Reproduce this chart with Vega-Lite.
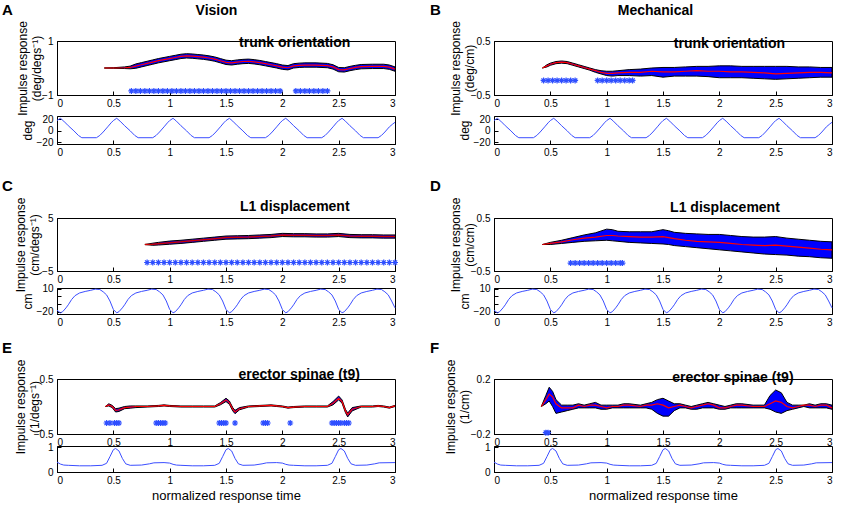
{
"$schema": "https://vega.github.io/schema/vega-lite/v6.json",
"background": "white",
"padding": {"left": 2, "top": 3, "right": 0, "bottom": 0},
"config": {
 "font": "Liberation Sans",
 "view": {"stroke": "black", "strokeWidth": 1},
 "axis": {"grid": false, "domainColor": "black", "tickColor": "black", "tickSize": -4, "labelFontSize": 10, "labelColor": "black", "titleFontSize": 12, "titleFontWeight": "normal", "titleColor": "black", "labelFont": "Liberation Sans", "titleFont": "Liberation Sans"},
 "axisX": {"labelPadding": 7},
 "axisY": {"labelPadding": 8},
 "title": {"font": "Liberation Sans", "fontWeight": "bold", "color": "black", "fontSize": 14}
},
"datasets": {
"labels": [
{"p":"A","t":2.11,"y":0.93,"lbl":"trunk orientation"},
{"p":"B","t":2.09,"y":0.44,"lbl":"trunk orientation"},
{"p":"C","t":2.11,"y":7.1,"lbl":"L1 displacement"},
{"p":"D","t":2.05,"y":0.68,"lbl":"L1 displacement"},
{"p":"E","t":2.15,"y":0.57,"lbl":"erector spinae (t9)"},
{"p":"F","t":2.12,"y":0.21,"lbl":"erector spinae (t9)"}
],
"resp": [
{"p":"A","t":0.42,"m":0,"lo":0,"hi":0},{"p":"A","t":0.5,"m":0,"lo":-0.01,"hi":0.01},{"p":"A","t":0.6,"m":0.01,"lo":-0.02,"hi":0.04},{"p":"A","t":0.65,"m":0.02,"lo":-0.03,"hi":0.07},{"p":"A","t":0.7,"m":0.07,"lo":-0.01,"hi":0.15},{"p":"A","t":0.75,"m":0.12,"lo":0.04,"hi":0.2},{"p":"A","t":0.8,"m":0.17,"lo":0.09,"hi":0.25},{"p":"A","t":0.85,"m":0.22,"lo":0.14,"hi":0.3},{"p":"A","t":0.9,"m":0.27,"lo":0.19,"hi":0.35},{"p":"A","t":0.95,"m":0.31,"lo":0.23,"hi":0.39},{"p":"A","t":1.0,"m":0.35,"lo":0.27,"hi":0.43},{"p":"A","t":1.05,"m":0.39,"lo":0.31,"hi":0.47},{"p":"A","t":1.1,"m":0.43,"lo":0.35,"hi":0.51},{"p":"A","t":1.15,"m":0.45,"lo":0.37,"hi":0.53},{"p":"A","t":1.2,"m":0.44,"lo":0.36,"hi":0.52},{"p":"A","t":1.25,"m":0.42,"lo":0.34,"hi":0.5},{"p":"A","t":1.3,"m":0.4,"lo":0.32,"hi":0.48},{"p":"A","t":1.35,"m":0.37,"lo":0.29,"hi":0.45},{"p":"A","t":1.4,"m":0.33,"lo":0.25,"hi":0.41},{"p":"A","t":1.45,"m":0.27,"lo":0.19,"hi":0.35},{"p":"A","t":1.5,"m":0.21,"lo":0.13,"hi":0.29},{"p":"A","t":1.55,"m":0.19,"lo":0.11,"hi":0.27},{"p":"A","t":1.6,"m":0.22,"lo":0.14,"hi":0.3},{"p":"A","t":1.65,"m":0.24,"lo":0.16,"hi":0.32},{"p":"A","t":1.7,"m":0.25,"lo":0.17,"hi":0.33},{"p":"A","t":1.75,"m":0.23,"lo":0.15,"hi":0.31},{"p":"A","t":1.8,"m":0.2,"lo":0.12,"hi":0.28},{"p":"A","t":1.85,"m":0.16,"lo":0.08,"hi":0.24},{"p":"A","t":1.9,"m":0.12,"lo":0.04,"hi":0.2},{"p":"A","t":1.95,"m":0.08,"lo":0,"hi":0.16},{"p":"A","t":2.0,"m":0.03,"lo":-0.05,"hi":0.11},{"p":"A","t":2.05,"m":0.01,"lo":-0.07,"hi":0.09},{"p":"A","t":2.1,"m":0.08,"lo":0,"hi":0.16},{"p":"A","t":2.15,"m":0.1,"lo":0.02,"hi":0.18},{"p":"A","t":2.2,"m":0.11,"lo":0.03,"hi":0.19},{"p":"A","t":2.3,"m":0.11,"lo":0.03,"hi":0.19},{"p":"A","t":2.4,"m":0.09,"lo":0.01,"hi":0.17},{"p":"A","t":2.45,"m":0.04,"lo":-0.04,"hi":0.12},{"p":"A","t":2.5,"m":-0.06,"lo":-0.14,"hi":0.02},{"p":"A","t":2.55,"m":-0.07,"lo":-0.15,"hi":0.01},{"p":"A","t":2.6,"m":-0.02,"lo":-0.1,"hi":0.06},{"p":"A","t":2.65,"m":0.02,"lo":-0.06,"hi":0.1},{"p":"A","t":2.7,"m":0.05,"lo":-0.03,"hi":0.13},{"p":"A","t":2.8,"m":0.06,"lo":-0.02,"hi":0.14},{"p":"A","t":2.9,"m":0.06,"lo":-0.02,"hi":0.14},{"p":"A","t":2.95,"m":0.03,"lo":-0.05,"hi":0.11},{"p":"A","t":3.0,"m":-0.04,"lo":-0.12,"hi":0.04},
{"p":"B","t":0.43,"m":0,"lo":0,"hi":0},{"p":"B","t":0.47,"m":0.04,"lo":0.02,"hi":0.06},{"p":"B","t":0.5,"m":0.07,"lo":0.05,"hi":0.09},{"p":"B","t":0.55,"m":0.1,"lo":0.08,"hi":0.12},{"p":"B","t":0.6,"m":0.11,"lo":0.09,"hi":0.13},{"p":"B","t":0.65,"m":0.1,"lo":0.08,"hi":0.12},{"p":"B","t":0.7,"m":0.07,"lo":0.05,"hi":0.09},{"p":"B","t":0.75,"m":0.04,"lo":0.02,"hi":0.06},{"p":"B","t":0.8,"m":0.01,"lo":-0.01,"hi":0.03},{"p":"B","t":0.85,"m":-0.02,"lo":-0.04,"hi":0},{"p":"B","t":0.9,"m":-0.05,"lo":-0.08,"hi":-0.03},{"p":"B","t":0.95,"m":-0.08,"lo":-0.11,"hi":-0.05},{"p":"B","t":1.0,"m":-0.1,"lo":-0.14,"hi":-0.06},{"p":"B","t":1.05,"m":-0.1,"lo":-0.15,"hi":-0.06},{"p":"B","t":1.1,"m":-0.09,"lo":-0.14,"hi":-0.05},{"p":"B","t":1.2,"m":-0.08,"lo":-0.14,"hi":-0.03},{"p":"B","t":1.3,"m":-0.08,"lo":-0.15,"hi":-0.02},{"p":"B","t":1.4,"m":-0.06,"lo":-0.14,"hi":0},{"p":"B","t":1.5,"m":-0.07,"lo":-0.17,"hi":0.01},{"p":"B","t":1.6,"m":-0.07,"lo":-0.15,"hi":0.01},{"p":"B","t":1.7,"m":-0.06,"lo":-0.15,"hi":0.02},{"p":"B","t":1.8,"m":-0.05,"lo":-0.15,"hi":0.03},{"p":"B","t":1.9,"m":-0.06,"lo":-0.16,"hi":0.03},{"p":"B","t":2.0,"m":-0.06,"lo":-0.18,"hi":0.04},{"p":"B","t":2.1,"m":-0.07,"lo":-0.18,"hi":0.04},{"p":"B","t":2.2,"m":-0.07,"lo":-0.18,"hi":0.03},{"p":"B","t":2.3,"m":-0.08,"lo":-0.19,"hi":0.03},{"p":"B","t":2.4,"m":-0.09,"lo":-0.2,"hi":0.03},{"p":"B","t":2.5,"m":-0.11,"lo":-0.21,"hi":0.03},{"p":"B","t":2.6,"m":-0.1,"lo":-0.2,"hi":0.03},{"p":"B","t":2.7,"m":-0.09,"lo":-0.19,"hi":0.02},{"p":"B","t":2.8,"m":-0.08,"lo":-0.18,"hi":0.02},{"p":"B","t":2.9,"m":-0.08,"lo":-0.17,"hi":0.01},{"p":"B","t":3.0,"m":-0.09,"lo":-0.17,"hi":0.01},
{"p":"C","t":0.78,"m":0,"lo":0,"hi":0},{"p":"C","t":0.85,"m":0.05,"lo":-0.15,"hi":0.25},{"p":"C","t":0.9,"m":0.15,"lo":-0.1,"hi":0.4},{"p":"C","t":1.0,"m":0.35,"lo":0.05,"hi":0.65},{"p":"C","t":1.1,"m":0.5,"lo":0.2,"hi":0.8},{"p":"C","t":1.2,"m":0.7,"lo":0.4,"hi":1.0},{"p":"C","t":1.3,"m":0.9,"lo":0.6,"hi":1.2},{"p":"C","t":1.4,"m":1.1,"lo":0.8,"hi":1.4},{"p":"C","t":1.5,"m":1.3,"lo":1.0,"hi":1.6},{"p":"C","t":1.6,"m":1.35,"lo":1.05,"hi":1.65},{"p":"C","t":1.7,"m":1.4,"lo":1.1,"hi":1.7},{"p":"C","t":1.8,"m":1.5,"lo":1.2,"hi":1.8},{"p":"C","t":1.9,"m":1.6,"lo":1.3,"hi":1.9},{"p":"C","t":2.0,"m":1.8,"lo":1.5,"hi":2.1},{"p":"C","t":2.1,"m":1.75,"lo":1.45,"hi":2.05},{"p":"C","t":2.2,"m":1.75,"lo":1.45,"hi":2.05},{"p":"C","t":2.3,"m":1.7,"lo":1.4,"hi":2.0},{"p":"C","t":2.4,"m":1.7,"lo":1.4,"hi":2.0},{"p":"C","t":2.5,"m":1.8,"lo":1.5,"hi":2.1},{"p":"C","t":2.6,"m":1.6,"lo":1.3,"hi":1.9},{"p":"C","t":2.7,"m":1.55,"lo":1.25,"hi":1.85},{"p":"C","t":2.8,"m":1.55,"lo":1.25,"hi":1.85},{"p":"C","t":2.9,"m":1.5,"lo":1.2,"hi":1.8},{"p":"C","t":3.0,"m":1.5,"lo":1.2,"hi":1.8},
{"p":"D","t":0.43,"m":0,"lo":0,"hi":0},{"p":"D","t":0.5,"m":0.02,"lo":0,"hi":0.04},{"p":"D","t":0.6,"m":0.05,"lo":0.02,"hi":0.08},{"p":"D","t":0.7,"m":0.09,"lo":0.04,"hi":0.13},{"p":"D","t":0.8,"m":0.12,"lo":0.06,"hi":0.18},{"p":"D","t":0.9,"m":0.14,"lo":0.07,"hi":0.22},{"p":"D","t":1.0,"m":0.17,"lo":0.08,"hi":0.29},{"p":"D","t":1.05,"m":0.17,"lo":0.07,"hi":0.28},{"p":"D","t":1.1,"m":0.16,"lo":0.06,"hi":0.25},{"p":"D","t":1.2,"m":0.15,"lo":0.04,"hi":0.24},{"p":"D","t":1.3,"m":0.14,"lo":0.03,"hi":0.24},{"p":"D","t":1.4,"m":0.14,"lo":0.02,"hi":0.24},{"p":"D","t":1.5,"m":0.15,"lo":0.01,"hi":0.28},{"p":"D","t":1.55,"m":0.13,"lo":0,"hi":0.26},{"p":"D","t":1.6,"m":0.11,"lo":-0.02,"hi":0.23},{"p":"D","t":1.7,"m":0.08,"lo":-0.04,"hi":0.21},{"p":"D","t":1.8,"m":0.06,"lo":-0.06,"hi":0.2},{"p":"D","t":1.9,"m":0.05,"lo":-0.08,"hi":0.19},{"p":"D","t":2.0,"m":0.04,"lo":-0.1,"hi":0.19},{"p":"D","t":2.1,"m":0.02,"lo":-0.12,"hi":0.17},{"p":"D","t":2.2,"m":0,"lo":-0.14,"hi":0.15},{"p":"D","t":2.3,"m":-0.01,"lo":-0.16,"hi":0.14},{"p":"D","t":2.4,"m":-0.02,"lo":-0.18,"hi":0.14},{"p":"D","t":2.5,"m":-0.01,"lo":-0.19,"hi":0.15},{"p":"D","t":2.6,"m":-0.03,"lo":-0.2,"hi":0.12},{"p":"D","t":2.7,"m":-0.05,"lo":-0.22,"hi":0.1},{"p":"D","t":2.8,"m":-0.07,"lo":-0.23,"hi":0.08},{"p":"D","t":2.9,"m":-0.09,"lo":-0.25,"hi":0.06},{"p":"D","t":3.0,"m":-0.1,"lo":-0.26,"hi":0.05},
{"p":"E","t":0.43,"m":0,"lo":0,"hi":0},{"p":"E","t":0.46,"m":0.03,"lo":0.01,"hi":0.05},{"p":"E","t":0.49,"m":0,"lo":-0.02,"hi":0.02},{"p":"E","t":0.52,"m":-0.07,"lo":-0.1,"hi":-0.04},{"p":"E","t":0.55,"m":-0.06,"lo":-0.09,"hi":-0.03},{"p":"E","t":0.6,"m":-0.02,"lo":-0.04,"hi":0},{"p":"E","t":0.65,"m":-0.01,"lo":-0.03,"hi":0.01},{"p":"E","t":0.7,"m":0,"lo":-0.02,"hi":0.01},{"p":"E","t":0.8,"m":0,"lo":-0.01,"hi":0.01},{"p":"E","t":0.9,"m":0.01,"lo":0,"hi":0.02},{"p":"E","t":0.95,"m":0.02,"lo":0.01,"hi":0.03},{"p":"E","t":1.0,"m":0.01,"lo":0,"hi":0.02},{"p":"E","t":1.1,"m":0,"lo":-0.01,"hi":0.01},{"p":"E","t":1.2,"m":0,"lo":-0.01,"hi":0.01},{"p":"E","t":1.3,"m":0,"lo":-0.01,"hi":0.01},{"p":"E","t":1.4,"m":0,"lo":-0.01,"hi":0.01},{"p":"E","t":1.45,"m":0.05,"lo":0.03,"hi":0.07},{"p":"E","t":1.5,"m":0.12,"lo":0.09,"hi":0.15},{"p":"E","t":1.53,"m":0.07,"lo":0.04,"hi":0.1},{"p":"E","t":1.56,"m":-0.05,"lo":-0.08,"hi":-0.02},{"p":"E","t":1.58,"m":-0.1,"lo":-0.13,"hi":-0.07},{"p":"E","t":1.62,"m":-0.04,"lo":-0.06,"hi":-0.02},{"p":"E","t":1.7,"m":0,"lo":-0.01,"hi":0.01},{"p":"E","t":1.8,"m":0.01,"lo":0,"hi":0.02},{"p":"E","t":1.9,"m":0.02,"lo":0.01,"hi":0.03},{"p":"E","t":1.95,"m":0.01,"lo":0,"hi":0.02},{"p":"E","t":2.0,"m":0,"lo":-0.01,"hi":0.01},{"p":"E","t":2.05,"m":-0.02,"lo":-0.03,"hi":-0.01},{"p":"E","t":2.1,"m":-0.01,"lo":-0.02,"hi":0},{"p":"E","t":2.2,"m":0,"lo":-0.01,"hi":0.01},{"p":"E","t":2.3,"m":0,"lo":-0.01,"hi":0.01},{"p":"E","t":2.4,"m":0,"lo":-0.01,"hi":0.01},{"p":"E","t":2.45,"m":0.06,"lo":0.03,"hi":0.09},{"p":"E","t":2.5,"m":0.15,"lo":0.12,"hi":0.19},{"p":"E","t":2.53,"m":0.09,"lo":0.06,"hi":0.12},{"p":"E","t":2.56,"m":-0.08,"lo":-0.11,"hi":-0.05},{"p":"E","t":2.58,"m":-0.15,"lo":-0.19,"hi":-0.12},{"p":"E","t":2.62,"m":-0.05,"lo":-0.08,"hi":-0.02},{"p":"E","t":2.7,"m":0,"lo":-0.01,"hi":0.01},{"p":"E","t":2.8,"m":0,"lo":-0.01,"hi":0.01},{"p":"E","t":2.85,"m":0.01,"lo":0,"hi":0.02},{"p":"E","t":2.9,"m":0,"lo":-0.01,"hi":0.01},{"p":"E","t":2.95,"m":-0.02,"lo":-0.03,"hi":-0.01},{"p":"E","t":3.0,"m":0.01,"lo":0,"hi":0.02},
{"p":"F","t":0.42,"m":0,"lo":0,"hi":0},{"p":"F","t":0.46,"m":0.05,"lo":0.02,"hi":0.08},{"p":"F","t":0.49,"m":0.09,"lo":0.04,"hi":0.14},{"p":"F","t":0.52,"m":0.07,"lo":0,"hi":0.11},{"p":"F","t":0.55,"m":0.02,"lo":-0.05,"hi":0.05},{"p":"F","t":0.6,"m":-0.01,"lo":-0.04,"hi":0.01},{"p":"F","t":0.65,"m":-0.01,"lo":-0.03,"hi":0.01},{"p":"F","t":0.7,"m":-0.01,"lo":-0.02,"hi":0.01},{"p":"F","t":0.75,"m":0.01,"lo":-0.01,"hi":0.02},{"p":"F","t":0.8,"m":0,"lo":-0.01,"hi":0.01},{"p":"F","t":0.85,"m":0.01,"lo":-0.01,"hi":0.02},{"p":"F","t":0.9,"m":0.01,"lo":-0.01,"hi":0.03},{"p":"F","t":0.95,"m":0,"lo":-0.02,"hi":0.01},{"p":"F","t":1.0,"m":-0.01,"lo":-0.02,"hi":0.01},{"p":"F","t":1.05,"m":0,"lo":-0.01,"hi":0.01},{"p":"F","t":1.1,"m":0,"lo":-0.01,"hi":0.01},{"p":"F","t":1.15,"m":0.01,"lo":-0.01,"hi":0.02},{"p":"F","t":1.2,"m":0.01,"lo":-0.01,"hi":0.02},{"p":"F","t":1.3,"m":0,"lo":-0.01,"hi":0.01},{"p":"F","t":1.35,"m":0.01,"lo":-0.01,"hi":0.02},{"p":"F","t":1.4,"m":0.01,"lo":-0.02,"hi":0.03},{"p":"F","t":1.45,"m":0.02,"lo":-0.05,"hi":0.05},{"p":"F","t":1.5,"m":0.01,"lo":-0.07,"hi":0.06},{"p":"F","t":1.55,"m":-0.01,"lo":-0.07,"hi":0.04},{"p":"F","t":1.6,"m":0,"lo":-0.03,"hi":0.02},{"p":"F","t":1.65,"m":0.01,"lo":-0.01,"hi":0.02},{"p":"F","t":1.7,"m":0,"lo":-0.01,"hi":0.01},{"p":"F","t":1.75,"m":-0.01,"lo":-0.02,"hi":0},{"p":"F","t":1.8,"m":0,"lo":-0.02,"hi":0.01},{"p":"F","t":1.85,"m":0.01,"lo":-0.01,"hi":0.02},{"p":"F","t":1.9,"m":0.02,"lo":-0.01,"hi":0.03},{"p":"F","t":1.95,"m":0.01,"lo":-0.01,"hi":0.02},{"p":"F","t":2.0,"m":-0.01,"lo":-0.02,"hi":0.01},{"p":"F","t":2.05,"m":-0.01,"lo":-0.02,"hi":0},{"p":"F","t":2.1,"m":0,"lo":-0.01,"hi":0.01},{"p":"F","t":2.15,"m":0.01,"lo":-0.01,"hi":0.02},{"p":"F","t":2.2,"m":0.01,"lo":-0.01,"hi":0.02},{"p":"F","t":2.3,"m":0,"lo":-0.01,"hi":0.01},{"p":"F","t":2.4,"m":0,"lo":-0.01,"hi":0.01},{"p":"F","t":2.45,"m":0.02,"lo":-0.02,"hi":0.08},{"p":"F","t":2.5,"m":0.04,"lo":-0.04,"hi":0.12},{"p":"F","t":2.55,"m":0.03,"lo":-0.05,"hi":0.1},{"p":"F","t":2.6,"m":0,"lo":-0.03,"hi":0.03},{"p":"F","t":2.65,"m":-0.01,"lo":-0.02,"hi":0.01},{"p":"F","t":2.7,"m":0,"lo":-0.01,"hi":0.01},{"p":"F","t":2.75,"m":0.01,"lo":0,"hi":0.01},{"p":"F","t":2.8,"m":0.01,"lo":-0.01,"hi":0.02},{"p":"F","t":2.85,"m":0,"lo":-0.01,"hi":0.01},{"p":"F","t":2.9,"m":0.01,"lo":-0.01,"hi":0.02},{"p":"F","t":2.95,"m":0.01,"lo":-0.01,"hi":0.02},{"p":"F","t":3.0,"m":-0.01,"lo":-0.02,"hi":0.01}
],
"sig": [
{"p":"A","t":0.66,"y":-0.85},{"p":"A","t":0.7,"y":-0.85},{"p":"A","t":0.74,"y":-0.85},{"p":"A","t":0.78,"y":-0.85},{"p":"A","t":0.82,"y":-0.85},{"p":"A","t":0.86,"y":-0.85},{"p":"A","t":0.9,"y":-0.85},{"p":"A","t":0.94,"y":-0.85},{"p":"A","t":0.98,"y":-0.85},{"p":"A","t":1.02,"y":-0.85},{"p":"A","t":1.06,"y":-0.85},{"p":"A","t":1.1,"y":-0.85},{"p":"A","t":1.14,"y":-0.85},{"p":"A","t":1.18,"y":-0.85},{"p":"A","t":1.22,"y":-0.85},{"p":"A","t":1.26,"y":-0.85},{"p":"A","t":1.3,"y":-0.85},{"p":"A","t":1.34,"y":-0.85},{"p":"A","t":1.38,"y":-0.85},{"p":"A","t":1.42,"y":-0.85},{"p":"A","t":1.46,"y":-0.85},{"p":"A","t":1.5,"y":-0.85},{"p":"A","t":1.54,"y":-0.85},{"p":"A","t":1.58,"y":-0.85},{"p":"A","t":1.62,"y":-0.85},{"p":"A","t":1.66,"y":-0.85},{"p":"A","t":1.7,"y":-0.85},{"p":"A","t":1.74,"y":-0.85},{"p":"A","t":1.78,"y":-0.85},{"p":"A","t":1.82,"y":-0.85},{"p":"A","t":1.86,"y":-0.85},{"p":"A","t":1.9,"y":-0.85},{"p":"A","t":1.94,"y":-0.85},{"p":"A","t":1.98,"y":-0.85},{"p":"A","t":2.12,"y":-0.85},{"p":"A","t":2.16,"y":-0.85},{"p":"A","t":2.2,"y":-0.85},{"p":"A","t":2.24,"y":-0.85},{"p":"A","t":2.28,"y":-0.85},{"p":"A","t":2.32,"y":-0.85},{"p":"A","t":2.36,"y":-0.85},{"p":"A","t":2.4,"y":-0.85},
{"p":"B","t":0.44,"y":-0.23},{"p":"B","t":0.48,"y":-0.23},{"p":"B","t":0.52,"y":-0.23},{"p":"B","t":0.56,"y":-0.23},{"p":"B","t":0.6,"y":-0.23},{"p":"B","t":0.64,"y":-0.23},{"p":"B","t":0.68,"y":-0.23},{"p":"B","t":0.72,"y":-0.23},{"p":"B","t":0.92,"y":-0.23},{"p":"B","t":0.96,"y":-0.23},{"p":"B","t":1.0,"y":-0.23},{"p":"B","t":1.04,"y":-0.23},{"p":"B","t":1.08,"y":-0.23},{"p":"B","t":1.12,"y":-0.23},{"p":"B","t":1.16,"y":-0.23},{"p":"B","t":1.2,"y":-0.23},{"p":"B","t":1.23,"y":-0.23},
{"p":"C","t":0.8,"y":-3.4},{"p":"C","t":0.85,"y":-3.4},{"p":"C","t":0.9,"y":-3.4},{"p":"C","t":0.95,"y":-3.4},{"p":"C","t":1.0,"y":-3.4},{"p":"C","t":1.05,"y":-3.4},{"p":"C","t":1.1,"y":-3.4},{"p":"C","t":1.15,"y":-3.4},{"p":"C","t":1.2,"y":-3.4},{"p":"C","t":1.25,"y":-3.4},{"p":"C","t":1.3,"y":-3.4},{"p":"C","t":1.35,"y":-3.4},{"p":"C","t":1.4,"y":-3.4},{"p":"C","t":1.45,"y":-3.4},{"p":"C","t":1.5,"y":-3.4},{"p":"C","t":1.55,"y":-3.4},{"p":"C","t":1.6,"y":-3.4},{"p":"C","t":1.65,"y":-3.4},{"p":"C","t":1.7,"y":-3.4},{"p":"C","t":1.75,"y":-3.4},{"p":"C","t":1.8,"y":-3.4},{"p":"C","t":1.85,"y":-3.4},{"p":"C","t":1.9,"y":-3.4},{"p":"C","t":1.95,"y":-3.4},{"p":"C","t":2.0,"y":-3.4},{"p":"C","t":2.05,"y":-3.4},{"p":"C","t":2.1,"y":-3.4},{"p":"C","t":2.15,"y":-3.4},{"p":"C","t":2.2,"y":-3.4},{"p":"C","t":2.25,"y":-3.4},{"p":"C","t":2.3,"y":-3.4},{"p":"C","t":2.35,"y":-3.4},{"p":"C","t":2.4,"y":-3.4},{"p":"C","t":2.45,"y":-3.4},{"p":"C","t":2.5,"y":-3.4},{"p":"C","t":2.55,"y":-3.4},{"p":"C","t":2.6,"y":-3.4},{"p":"C","t":2.65,"y":-3.4},{"p":"C","t":2.7,"y":-3.4},{"p":"C","t":2.75,"y":-3.4},{"p":"C","t":2.8,"y":-3.4},{"p":"C","t":2.85,"y":-3.4},{"p":"C","t":2.9,"y":-3.4},{"p":"C","t":2.95,"y":-3.4},{"p":"C","t":3.0,"y":-3.4},
{"p":"D","t":0.68,"y":-0.35},{"p":"D","t":0.72,"y":-0.35},{"p":"D","t":0.76,"y":-0.35},{"p":"D","t":0.8,"y":-0.35},{"p":"D","t":0.84,"y":-0.35},{"p":"D","t":0.88,"y":-0.35},{"p":"D","t":0.92,"y":-0.35},{"p":"D","t":0.96,"y":-0.35},{"p":"D","t":1.0,"y":-0.35},{"p":"D","t":1.04,"y":-0.35},{"p":"D","t":1.08,"y":-0.35},{"p":"D","t":1.12,"y":-0.35},{"p":"D","t":1.14,"y":-0.35},
{"p":"E","t":0.44,"y":-0.3},{"p":"E","t":0.47,"y":-0.3},{"p":"E","t":0.51,"y":-0.3},{"p":"E","t":0.53,"y":-0.3},{"p":"E","t":0.55,"y":-0.3},{"p":"E","t":0.88,"y":-0.3},{"p":"E","t":0.9,"y":-0.3},{"p":"E","t":0.92,"y":-0.3},{"p":"E","t":0.94,"y":-0.3},{"p":"E","t":0.96,"y":-0.3},{"p":"E","t":1.44,"y":-0.3},{"p":"E","t":1.46,"y":-0.3},{"p":"E","t":1.48,"y":-0.3},{"p":"E","t":1.5,"y":-0.3},{"p":"E","t":1.58,"y":-0.3},{"p":"E","t":1.83,"y":-0.3},{"p":"E","t":1.85,"y":-0.3},{"p":"E","t":1.87,"y":-0.3},{"p":"E","t":2.07,"y":-0.3},{"p":"E","t":2.44,"y":-0.3},{"p":"E","t":2.46,"y":-0.3},{"p":"E","t":2.48,"y":-0.3},{"p":"E","t":2.5,"y":-0.3},{"p":"E","t":2.52,"y":-0.3},{"p":"E","t":2.55,"y":-0.3},{"p":"E","t":2.57,"y":-0.3},{"p":"E","t":2.59,"y":-0.3},
{"p":"F","t":0.46,"y":-0.19},{"p":"F","t":0.48,"y":-0.19}
],
"stim": [
{"k":"deg","t":0,"v":18},{"k":"deg","t":0.03,"v":22},{"k":"deg","t":0.06,"v":17},{"k":"deg","t":0.1,"v":9},{"k":"deg","t":0.15,"v":0},{"k":"deg","t":0.19,"v":-8},{"k":"deg","t":0.22,"v":-12},{"k":"deg","t":0.35,"v":-12},{"k":"deg","t":0.38,"v":-8},{"k":"deg","t":0.41,"v":-2},{"k":"deg","t":0.45,"v":7},{"k":"deg","t":0.48,"v":14},
{"k":"deg","t":0.5,"v":18},{"k":"deg","t":0.53,"v":22},{"k":"deg","t":0.56,"v":17},{"k":"deg","t":0.6,"v":9},{"k":"deg","t":0.65,"v":0},{"k":"deg","t":0.69,"v":-8},{"k":"deg","t":0.72,"v":-12},{"k":"deg","t":0.85,"v":-12},{"k":"deg","t":0.88,"v":-8},{"k":"deg","t":0.91,"v":-2},{"k":"deg","t":0.95,"v":7},{"k":"deg","t":0.98,"v":14},
{"k":"deg","t":1.0,"v":18},{"k":"deg","t":1.03,"v":22},{"k":"deg","t":1.06,"v":17},{"k":"deg","t":1.1,"v":9},{"k":"deg","t":1.15,"v":0},{"k":"deg","t":1.19,"v":-8},{"k":"deg","t":1.22,"v":-12},{"k":"deg","t":1.35,"v":-12},{"k":"deg","t":1.38,"v":-8},{"k":"deg","t":1.41,"v":-2},{"k":"deg","t":1.45,"v":7},{"k":"deg","t":1.48,"v":14},
{"k":"deg","t":1.5,"v":18},{"k":"deg","t":1.53,"v":22},{"k":"deg","t":1.56,"v":17},{"k":"deg","t":1.6,"v":9},{"k":"deg","t":1.65,"v":0},{"k":"deg","t":1.69,"v":-8},{"k":"deg","t":1.72,"v":-12},{"k":"deg","t":1.85,"v":-12},{"k":"deg","t":1.88,"v":-8},{"k":"deg","t":1.91,"v":-2},{"k":"deg","t":1.95,"v":7},{"k":"deg","t":1.98,"v":14},
{"k":"deg","t":2.0,"v":18},{"k":"deg","t":2.03,"v":22},{"k":"deg","t":2.06,"v":17},{"k":"deg","t":2.1,"v":9},{"k":"deg","t":2.15,"v":0},{"k":"deg","t":2.19,"v":-8},{"k":"deg","t":2.22,"v":-12},{"k":"deg","t":2.35,"v":-12},{"k":"deg","t":2.38,"v":-8},{"k":"deg","t":2.41,"v":-2},{"k":"deg","t":2.45,"v":7},{"k":"deg","t":2.48,"v":14},
{"k":"deg","t":2.5,"v":18},{"k":"deg","t":2.53,"v":22},{"k":"deg","t":2.56,"v":17},{"k":"deg","t":2.6,"v":9},{"k":"deg","t":2.65,"v":0},{"k":"deg","t":2.69,"v":-8},{"k":"deg","t":2.72,"v":-12},{"k":"deg","t":2.85,"v":-12},{"k":"deg","t":2.88,"v":-8},{"k":"deg","t":2.91,"v":-2},{"k":"deg","t":2.95,"v":7},{"k":"deg","t":2.98,"v":12},{"k":"deg","t":3.0,"v":15},
{"k":"cm","t":0,"v":-18},{"k":"cm","t":0.03,"v":-21.5},{"k":"cm","t":0.05,"v":-20},{"k":"cm","t":0.08,"v":-15},{"k":"cm","t":0.1,"v":-11},{"k":"cm","t":0.13,"v":-4},{"k":"cm","t":0.16,"v":1},{"k":"cm","t":0.2,"v":4.5},{"k":"cm","t":0.25,"v":6.5},{"k":"cm","t":0.3,"v":8},{"k":"cm","t":0.34,"v":9.5},{"k":"cm","t":0.38,"v":9},{"k":"cm","t":0.41,"v":6},{"k":"cm","t":0.44,"v":2},{"k":"cm","t":0.47,"v":-6},
{"k":"cm","t":0.5,"v":-17},{"k":"cm","t":0.53,"v":-21.5},{"k":"cm","t":0.55,"v":-20},{"k":"cm","t":0.58,"v":-15},{"k":"cm","t":0.6,"v":-11},{"k":"cm","t":0.63,"v":-4},{"k":"cm","t":0.66,"v":1},{"k":"cm","t":0.7,"v":4.5},{"k":"cm","t":0.75,"v":6.5},{"k":"cm","t":0.8,"v":8},{"k":"cm","t":0.84,"v":9.5},{"k":"cm","t":0.88,"v":9},{"k":"cm","t":0.91,"v":6},{"k":"cm","t":0.94,"v":2},{"k":"cm","t":0.97,"v":-6},
{"k":"cm","t":1.0,"v":-17},{"k":"cm","t":1.03,"v":-21.5},{"k":"cm","t":1.05,"v":-20},{"k":"cm","t":1.08,"v":-15},{"k":"cm","t":1.1,"v":-11},{"k":"cm","t":1.13,"v":-4},{"k":"cm","t":1.16,"v":1},{"k":"cm","t":1.2,"v":4.5},{"k":"cm","t":1.25,"v":6.5},{"k":"cm","t":1.3,"v":8},{"k":"cm","t":1.34,"v":9.5},{"k":"cm","t":1.38,"v":9},{"k":"cm","t":1.41,"v":6},{"k":"cm","t":1.44,"v":2},{"k":"cm","t":1.47,"v":-6},
{"k":"cm","t":1.5,"v":-17},{"k":"cm","t":1.53,"v":-21.5},{"k":"cm","t":1.55,"v":-20},{"k":"cm","t":1.58,"v":-15},{"k":"cm","t":1.6,"v":-11},{"k":"cm","t":1.63,"v":-4},{"k":"cm","t":1.66,"v":1},{"k":"cm","t":1.7,"v":4.5},{"k":"cm","t":1.75,"v":6.5},{"k":"cm","t":1.8,"v":8},{"k":"cm","t":1.84,"v":9.5},{"k":"cm","t":1.88,"v":9},{"k":"cm","t":1.91,"v":6},{"k":"cm","t":1.94,"v":2},{"k":"cm","t":1.97,"v":-6},
{"k":"cm","t":2.0,"v":-17},{"k":"cm","t":2.03,"v":-21.5},{"k":"cm","t":2.05,"v":-20},{"k":"cm","t":2.08,"v":-15},{"k":"cm","t":2.1,"v":-11},{"k":"cm","t":2.13,"v":-4},{"k":"cm","t":2.16,"v":1},{"k":"cm","t":2.2,"v":4.5},{"k":"cm","t":2.25,"v":6.5},{"k":"cm","t":2.3,"v":8},{"k":"cm","t":2.34,"v":9.5},{"k":"cm","t":2.38,"v":9},{"k":"cm","t":2.41,"v":6},{"k":"cm","t":2.44,"v":2},{"k":"cm","t":2.47,"v":-6},
{"k":"cm","t":2.5,"v":-17},{"k":"cm","t":2.53,"v":-21.5},{"k":"cm","t":2.55,"v":-20},{"k":"cm","t":2.58,"v":-15},{"k":"cm","t":2.6,"v":-11},{"k":"cm","t":2.63,"v":-4},{"k":"cm","t":2.66,"v":1},{"k":"cm","t":2.7,"v":4.5},{"k":"cm","t":2.75,"v":6.5},{"k":"cm","t":2.8,"v":8},{"k":"cm","t":2.84,"v":9.5},{"k":"cm","t":2.88,"v":9},{"k":"cm","t":2.91,"v":6},{"k":"cm","t":2.94,"v":2},{"k":"cm","t":2.97,"v":-6},{"k":"cm","t":3.0,"v":-15},
{"k":"emg","t":0,"v":0.4},{"k":"emg","t":0.03,"v":0.32},{"k":"emg","t":0.06,"v":0.28},{"k":"emg","t":0.1,"v":0.27},{"k":"emg","t":0.2,"v":0.25},{"k":"emg","t":0.3,"v":0.25},{"k":"emg","t":0.4,"v":0.27},{"k":"emg","t":0.44,"v":0.35},{"k":"emg","t":0.47,"v":0.62},{"k":"emg","t":0.5,"v":0.9},{"k":"emg","t":0.52,"v":0.95},{"k":"emg","t":0.55,"v":0.85},{"k":"emg","t":0.58,"v":0.55},{"k":"emg","t":0.61,"v":0.33},{"k":"emg","t":0.65,"v":0.27},{"k":"emg","t":0.75,"v":0.28},{"k":"emg","t":0.82,"v":0.33},{"k":"emg","t":0.86,"v":0.37},{"k":"emg","t":0.95,"v":0.38},
{"k":"emg","t":1.0,"v":0.36},{"k":"emg","t":1.03,"v":0.31},{"k":"emg","t":1.06,"v":0.28},{"k":"emg","t":1.1,"v":0.27},{"k":"emg","t":1.2,"v":0.25},{"k":"emg","t":1.3,"v":0.25},{"k":"emg","t":1.4,"v":0.27},{"k":"emg","t":1.44,"v":0.35},{"k":"emg","t":1.47,"v":0.62},{"k":"emg","t":1.5,"v":0.9},{"k":"emg","t":1.52,"v":0.95},{"k":"emg","t":1.55,"v":0.85},{"k":"emg","t":1.58,"v":0.55},{"k":"emg","t":1.61,"v":0.33},{"k":"emg","t":1.65,"v":0.27},{"k":"emg","t":1.75,"v":0.28},{"k":"emg","t":1.82,"v":0.33},{"k":"emg","t":1.86,"v":0.37},{"k":"emg","t":1.95,"v":0.38},
{"k":"emg","t":2.0,"v":0.36},{"k":"emg","t":2.03,"v":0.31},{"k":"emg","t":2.06,"v":0.28},{"k":"emg","t":2.1,"v":0.27},{"k":"emg","t":2.2,"v":0.25},{"k":"emg","t":2.3,"v":0.25},{"k":"emg","t":2.4,"v":0.27},{"k":"emg","t":2.44,"v":0.35},{"k":"emg","t":2.47,"v":0.62},{"k":"emg","t":2.5,"v":0.9},{"k":"emg","t":2.52,"v":0.95},{"k":"emg","t":2.55,"v":0.85},{"k":"emg","t":2.58,"v":0.55},{"k":"emg","t":2.61,"v":0.33},{"k":"emg","t":2.65,"v":0.27},{"k":"emg","t":2.75,"v":0.28},{"k":"emg","t":2.82,"v":0.33},{"k":"emg","t":2.86,"v":0.37},{"k":"emg","t":3.0,"v":0.38}
]
},
"spacing": 29,
"hconcat": [
{
 "title": {"text": "Vision", "anchor": "middle", "dx": 15, "offset": -15},
 "spacing": 12,
 "vconcat": [
  {
   "title": {"text": "A", "anchor": "start", "frame": "group", "dx": -55, "offset": 0, "fontSize": 15},
   "bounds": "flush",
   "spacing": 21,
   "vconcat": [
    {
     "width": 338, "height": 54,
     "data": {"name": "resp"},
     "transform": [{"filter": "datum.p == 'A'"}],
     "encoding": {"x": {"field": "t", "type": "quantitative", "scale": {"domain": [0, 3], "nice": false, "zero": false}, "axis": {"values": [0, 0.5, 1, 1.5, 2, 2.5, 3], "format": "~g", "title": null}}},
     "layer": [
      {"mark": {"type": "area", "fill": "#0000ff", "stroke": "black", "strokeWidth": 1, "opacity": 1}, "encoding": {"y": {"field": "lo", "type": "quantitative", "scale": {"domain": [-1, 1], "nice": false, "zero": false}, "axis": {"values": [-1, 0, 1], "format": "~g", "title": ["Impulse  response", "(deg/degs⁻¹)"], "titlePadding": -2}}, "y2": {"field": "hi"}}},
      {"data": {"values": [{}]}, "mark": {"type": "rule", "color": "#333333", "strokeWidth": 1}, "encoding": {"y": {"datum": 0}, "x": {"datum": 0}, "x2": {"datum": 3}}},
      {"mark": {"type": "line", "color": "#ff0000", "strokeWidth": 1.2}, "encoding": {"y": {"field": "m", "type": "quantitative"}}},
      {"data": {"name": "sig"}, "transform": [{"filter": "datum.p == 'A'"}], "mark": {"type": "point", "shape": "M-1,0L1,0M0,-1L0,1M-0.7,-0.7L0.7,0.7M-0.7,0.7L0.7,-0.7", "filled": false, "stroke": "#2f4fff", "strokeWidth": 1.2, "size": 36, "opacity": 1}, "encoding": {"y": {"field": "y", "type": "quantitative"}}},
      {"data": {"name": "labels"}, "transform": [{"filter": "datum.p == 'A'"}], "mark": {"type": "text", "fontWeight": "bold", "fontSize": 14, "fill": "black", "align": "center", "baseline": "middle"}, "encoding": {"text": {"field": "lbl", "type": "nominal"}, "y": {"field": "y", "type": "quantitative"}}}
     ]
    },
    {
     "width": 338, "height": 28,
     "data": {"name": "stim"},
     "transform": [{"filter": "datum.k == 'deg'"}],
     "mark": {"type": "line", "color": "#3b4eff", "strokeWidth": 1},
     "encoding": {
      "x": {"field": "t", "type": "quantitative", "scale": {"domain": [0, 3], "nice": false, "zero": false}, "axis": {"values": [0, 0.5, 1, 1.5, 2, 2.5, 3], "format": "~g", "title": "x", "titleFontSize": 7, "titlePadding": 1, "titleOpacity": 0}},
      "y": {"field": "v", "type": "quantitative", "scale": {"domain": [-23, 26], "nice": false, "zero": false}, "axis": {"values": [-20, 0, 20], "format": "d", "title": "deg", "titlePadding": 2}}
     }
    }
   ]
  },
  {
   "title": {"text": "C", "anchor": "start", "frame": "group", "dx": -55, "offset": 1, "fontSize": 15},
   "bounds": "flush",
   "spacing": 17,
   "vconcat": [
    {
     "width": 338, "height": 53,
     "data": {"name": "resp"},
     "transform": [{"filter": "datum.p == 'C'"}],
     "encoding": {"x": {"field": "t", "type": "quantitative", "scale": {"domain": [0, 3], "nice": false, "zero": false}, "axis": {"values": [0, 0.5, 1, 1.5, 2, 2.5, 3], "format": "~g", "title": null}}},
     "layer": [
      {"mark": {"type": "area", "fill": "#0000ff", "stroke": "black", "strokeWidth": 1, "opacity": 1}, "encoding": {"y": {"field": "lo", "type": "quantitative", "scale": {"domain": [-5, 5], "nice": false, "zero": false}, "axis": {"values": [-5, 0, 5], "format": "~g", "title": ["Impulse  response", "(cm/degs⁻¹)"], "titlePadding": 0}}, "y2": {"field": "hi"}}},
      {"data": {"values": [{}]}, "mark": {"type": "rule", "color": "#555555", "strokeWidth": 1.5}, "encoding": {"y": {"datum": 0}, "x": {"datum": 0}, "x2": {"datum": 3}}},
      {"mark": {"type": "line", "color": "#cc0000", "strokeWidth": 1.5}, "encoding": {"y": {"field": "m", "type": "quantitative"}}},
      {"data": {"name": "sig"}, "transform": [{"filter": "datum.p == 'C'"}], "mark": {"type": "point", "shape": "M-1,0L1,0M0,-1L0,1M-0.7,-0.7L0.7,0.7M-0.7,0.7L0.7,-0.7", "filled": false, "stroke": "#2f4fff", "strokeWidth": 1.2, "size": 36, "opacity": 1}, "encoding": {"y": {"field": "y", "type": "quantitative"}}},
      {"data": {"name": "labels"}, "transform": [{"filter": "datum.p == 'C'"}], "mark": {"type": "text", "fontWeight": "bold", "fontSize": 14, "fill": "black", "align": "center", "baseline": "middle"}, "encoding": {"text": {"field": "lbl", "type": "nominal"}, "y": {"field": "y", "type": "quantitative"}}}
     ]
    },
    {
     "width": 338, "height": 26,
     "data": {"name": "stim"},
     "transform": [{"filter": "datum.k == 'cm'"}],
     "mark": {"type": "line", "color": "#3b4eff", "strokeWidth": 1},
     "encoding": {
      "x": {"field": "t", "type": "quantitative", "scale": {"domain": [0, 3], "nice": false, "zero": false}, "axis": {"values": [0, 0.5, 1, 1.5, 2, 2.5, 3], "format": "~g", "title": null}},
      "y": {"field": "v", "type": "quantitative", "scale": {"domain": [-23, 11], "nice": false, "zero": false}, "axis": {"values": [-20, -10, 0, 10], "format": "d", "title": "cm", "titlePadding": 2}}
     }
    }
   ]
  },
  {
   "title": {"text": "E", "anchor": "start", "frame": "group", "dx": -55, "offset": 1, "fontSize": 15},
   "bounds": "flush",
   "spacing": 12,
   "vconcat": [
    {
     "width": 338, "height": 55,
     "data": {"name": "resp"},
     "transform": [{"filter": "datum.p == 'E'"}],
     "encoding": {"x": {"field": "t", "type": "quantitative", "scale": {"domain": [0, 3], "nice": false, "zero": false}, "axis": {"values": [0, 0.5, 1, 1.5, 2, 2.5, 3], "format": "~g", "title": null}}},
     "layer": [
      {"mark": {"type": "area", "fill": "#0000ff", "stroke": "black", "strokeWidth": 1, "opacity": 1}, "encoding": {"y": {"field": "lo", "type": "quantitative", "scale": {"domain": [-0.5, 0.5], "nice": false, "zero": false}, "axis": {"values": [-0.5, 0, 0.5], "format": "~g", "title": ["Impulse  response", "(1/degs⁻¹)"], "titlePadding": -8}}, "y2": {"field": "hi"}}},
      {"data": {"values": [{}]}, "mark": {"type": "rule", "color": "#333333", "strokeWidth": 1}, "encoding": {"y": {"datum": 0}, "x": {"datum": 0}, "x2": {"datum": 3}}},
      {"mark": {"type": "line", "color": "#ff0000", "strokeWidth": 1.2}, "encoding": {"y": {"field": "m", "type": "quantitative"}}},
      {"data": {"name": "sig"}, "transform": [{"filter": "datum.p == 'E'"}], "mark": {"type": "point", "shape": "M-1,0L1,0M0,-1L0,1M-0.7,-0.7L0.7,0.7M-0.7,0.7L0.7,-0.7", "filled": false, "stroke": "#2f4fff", "strokeWidth": 1.2, "size": 36, "opacity": 1}, "encoding": {"y": {"field": "y", "type": "quantitative"}}},
      {"data": {"name": "labels"}, "transform": [{"filter": "datum.p == 'E'"}], "mark": {"type": "text", "fontWeight": "bold", "fontSize": 14, "fill": "black", "align": "center", "baseline": "middle"}, "encoding": {"text": {"field": "lbl", "type": "nominal"}, "y": {"field": "y", "type": "quantitative"}}}
     ]
    },
    {
     "width": 338, "height": 26,
     "data": {"name": "stim"},
     "transform": [{"filter": "datum.k == 'emg'"}],
     "encoding": {
      "x": {"field": "t", "type": "quantitative", "scale": {"domain": [0, 3], "nice": false, "zero": false}, "axis": {"values": [0, 0.5, 1, 1.5, 2, 2.5, 3], "format": "~g", "title": "normalized response time", "titleFontSize": 13, "titlePadding": 4}}
     },
     "layer": [
      {"data": {"values": [{}]}, "mark": {"type": "rule", "color": "#000080", "strokeWidth": 2}, "encoding": {"y": {"datum": 0}, "x": {"datum": 0}, "x2": {"datum": 3}}},
      {"mark": {"type": "line", "color": "#3b4eff", "strokeWidth": 1}, "encoding": {"y": {"field": "v", "type": "quantitative", "scale": {"domain": [0, 1.05], "nice": false, "zero": false}, "axis": {"values": [0, 0.5, 1], "format": "~g", "title": null}}}}
     ]
    }
   ]
  }
 ]
},
{
 "title": {"text": "Mechanical", "anchor": "middle", "dx": 23, "offset": -15},
 "spacing": 12,
 "vconcat": [
  {
   "title": {"text": "B", "anchor": "start", "frame": "group", "dx": -64, "offset": 0, "fontSize": 15},
   "bounds": "flush",
   "spacing": 21,
   "vconcat": [
    {
     "width": 338, "height": 54,
     "data": {"name": "resp"},
     "transform": [{"filter": "datum.p == 'B'"}],
     "encoding": {"x": {"field": "t", "type": "quantitative", "scale": {"domain": [0, 3], "nice": false, "zero": false}, "axis": {"values": [0, 0.5, 1, 1.5, 2, 2.5, 3], "format": "~g", "title": null}}},
     "layer": [
      {"mark": {"type": "area", "fill": "#0000ff", "stroke": "black", "strokeWidth": 1, "opacity": 1}, "encoding": {"y": {"field": "lo", "type": "quantitative", "scale": {"domain": [-0.5, 0.5], "nice": false, "zero": false}, "axis": {"values": [-0.5, 0, 0.5], "format": "~g", "title": ["Impulse  response", "(deg/cm)"], "titlePadding": -6}}, "y2": {"field": "hi"}}},
      {"data": {"values": [{}]}, "mark": {"type": "rule", "color": "#333333", "strokeWidth": 1}, "encoding": {"y": {"datum": 0}, "x": {"datum": 0}, "x2": {"datum": 3}}},
      {"mark": {"type": "line", "color": "#ff0000", "strokeWidth": 1.2}, "encoding": {"y": {"field": "m", "type": "quantitative"}}},
      {"data": {"name": "sig"}, "transform": [{"filter": "datum.p == 'B'"}], "mark": {"type": "point", "shape": "M-1,0L1,0M0,-1L0,1M-0.7,-0.7L0.7,0.7M-0.7,0.7L0.7,-0.7", "filled": false, "stroke": "#2f4fff", "strokeWidth": 1.2, "size": 36, "opacity": 1}, "encoding": {"y": {"field": "y", "type": "quantitative"}}},
      {"data": {"name": "labels"}, "transform": [{"filter": "datum.p == 'B'"}], "mark": {"type": "text", "fontWeight": "bold", "fontSize": 14, "fill": "black", "align": "center", "baseline": "middle"}, "encoding": {"text": {"field": "lbl", "type": "nominal"}, "y": {"field": "y", "type": "quantitative"}}}
     ]
    },
    {
     "width": 338, "height": 28,
     "data": {"name": "stim"},
     "transform": [{"filter": "datum.k == 'deg'"}],
     "mark": {"type": "line", "color": "#3b4eff", "strokeWidth": 1},
     "encoding": {
      "x": {"field": "t", "type": "quantitative", "scale": {"domain": [0, 3], "nice": false, "zero": false}, "axis": {"values": [0, 0.5, 1, 1.5, 2, 2.5, 3], "format": "~g", "title": "x", "titleFontSize": 7, "titlePadding": 1, "titleOpacity": 0}},
      "y": {"field": "v", "type": "quantitative", "scale": {"domain": [-23, 26], "nice": false, "zero": false}, "axis": {"values": [-20, 0, 20], "format": "d", "title": "deg", "titlePadding": 2}}
     }
    }
   ]
  },
  {
   "title": {"text": "D", "anchor": "start", "frame": "group", "dx": -64, "offset": 1, "fontSize": 15},
   "bounds": "flush",
   "spacing": 17,
   "vconcat": [
    {
     "width": 338, "height": 53,
     "data": {"name": "resp"},
     "transform": [{"filter": "datum.p == 'D'"}],
     "encoding": {"x": {"field": "t", "type": "quantitative", "scale": {"domain": [0, 3], "nice": false, "zero": false}, "axis": {"values": [0, 0.5, 1, 1.5, 2, 2.5, 3], "format": "~g", "title": null}}},
     "layer": [
      {"mark": {"type": "area", "fill": "#0000ff", "stroke": "black", "strokeWidth": 1, "opacity": 1}, "encoding": {"y": {"field": "lo", "type": "quantitative", "scale": {"domain": [-0.5, 0.5], "nice": false, "zero": false}, "axis": {"values": [-0.5, 0, 0.5], "format": "~g", "title": ["Impulse  response", "(cm/cm)"], "titlePadding": -6}}, "y2": {"field": "hi"}}},
      {"data": {"values": [{}]}, "mark": {"type": "rule", "color": "#111111", "strokeWidth": 1}, "encoding": {"y": {"datum": 0}, "x": {"datum": 0}, "x2": {"datum": 3}}},
      {"mark": {"type": "line", "color": "#ff0000", "strokeWidth": 1.2}, "encoding": {"y": {"field": "m", "type": "quantitative"}}},
      {"data": {"name": "sig"}, "transform": [{"filter": "datum.p == 'D'"}], "mark": {"type": "point", "shape": "M-1,0L1,0M0,-1L0,1M-0.7,-0.7L0.7,0.7M-0.7,0.7L0.7,-0.7", "filled": false, "stroke": "#2f4fff", "strokeWidth": 1.2, "size": 36, "opacity": 1}, "encoding": {"y": {"field": "y", "type": "quantitative"}}},
      {"data": {"name": "labels"}, "transform": [{"filter": "datum.p == 'D'"}], "mark": {"type": "text", "fontWeight": "bold", "fontSize": 14, "fill": "black", "align": "center", "baseline": "middle"}, "encoding": {"text": {"field": "lbl", "type": "nominal"}, "y": {"field": "y", "type": "quantitative"}}}
     ]
    },
    {
     "width": 338, "height": 26,
     "data": {"name": "stim"},
     "transform": [{"filter": "datum.k == 'cm'"}],
     "mark": {"type": "line", "color": "#3b4eff", "strokeWidth": 1},
     "encoding": {
      "x": {"field": "t", "type": "quantitative", "scale": {"domain": [0, 3], "nice": false, "zero": false}, "axis": {"values": [0, 0.5, 1, 1.5, 2, 2.5, 3], "format": "~g", "title": null}},
      "y": {"field": "v", "type": "quantitative", "scale": {"domain": [-23, 11], "nice": false, "zero": false}, "axis": {"values": [-20, -10, 0, 10], "format": "d", "title": "cm", "titlePadding": 2}}
     }
    }
   ]
  },
  {
   "title": {"text": "F", "anchor": "start", "frame": "group", "dx": -64, "offset": 1, "fontSize": 15},
   "bounds": "flush",
   "spacing": 12,
   "vconcat": [
    {
     "width": 338, "height": 55,
     "data": {"name": "resp"},
     "transform": [{"filter": "datum.p == 'F'"}],
     "encoding": {"x": {"field": "t", "type": "quantitative", "scale": {"domain": [0, 3], "nice": false, "zero": false}, "axis": {"values": [0, 0.5, 1, 1.5, 2, 2.5, 3], "format": "~g", "title": null}}},
     "layer": [
      {"mark": {"type": "area", "fill": "#0000ff", "stroke": "black", "strokeWidth": 1, "opacity": 1}, "encoding": {"y": {"field": "lo", "type": "quantitative", "scale": {"domain": [-0.2, 0.2], "nice": false, "zero": false}, "axis": {"values": [-0.2, 0, 0.2], "format": "~g", "title": ["Impulse  response", "(1/cm)"], "titlePadding": -1}}, "y2": {"field": "hi"}}},
      {"data": {"values": [{}]}, "mark": {"type": "rule", "color": "#111111", "strokeWidth": 1}, "encoding": {"y": {"datum": 0}, "x": {"datum": 0}, "x2": {"datum": 3}}},
      {"mark": {"type": "line", "color": "#ff0000", "strokeWidth": 1.2}, "encoding": {"y": {"field": "m", "type": "quantitative"}}},
      {"data": {"name": "sig"}, "transform": [{"filter": "datum.p == 'F'"}], "mark": {"type": "point", "shape": "M-1,0L1,0M0,-1L0,1M-0.7,-0.7L0.7,0.7M-0.7,0.7L0.7,-0.7", "filled": false, "stroke": "#2f4fff", "strokeWidth": 1.2, "size": 36, "opacity": 1}, "encoding": {"y": {"field": "y", "type": "quantitative"}}},
      {"data": {"name": "labels"}, "transform": [{"filter": "datum.p == 'F'"}], "mark": {"type": "text", "fontWeight": "bold", "fontSize": 14, "fill": "black", "align": "center", "baseline": "middle"}, "encoding": {"text": {"field": "lbl", "type": "nominal"}, "y": {"field": "y", "type": "quantitative"}}}
     ]
    },
    {
     "width": 338, "height": 26,
     "data": {"name": "stim"},
     "transform": [{"filter": "datum.k == 'emg'"}],
     "encoding": {
      "x": {"field": "t", "type": "quantitative", "scale": {"domain": [0, 3], "nice": false, "zero": false}, "axis": {"values": [0, 0.5, 1, 1.5, 2, 2.5, 3], "format": "~g", "title": "normalized response time", "titleFontSize": 13, "titlePadding": 4}}
     },
     "layer": [
      {"data": {"values": [{}]}, "mark": {"type": "rule", "color": "#000080", "strokeWidth": 2}, "encoding": {"y": {"datum": 0}, "x": {"datum": 0}, "x2": {"datum": 3}}},
      {"mark": {"type": "line", "color": "#3b4eff", "strokeWidth": 1}, "encoding": {"y": {"field": "v", "type": "quantitative", "scale": {"domain": [0, 1.05], "nice": false, "zero": false}, "axis": {"values": [0, 0.5, 1], "format": "~g", "title": null}}}}
     ]
    }
   ]
  }
 ]
}
]
}
